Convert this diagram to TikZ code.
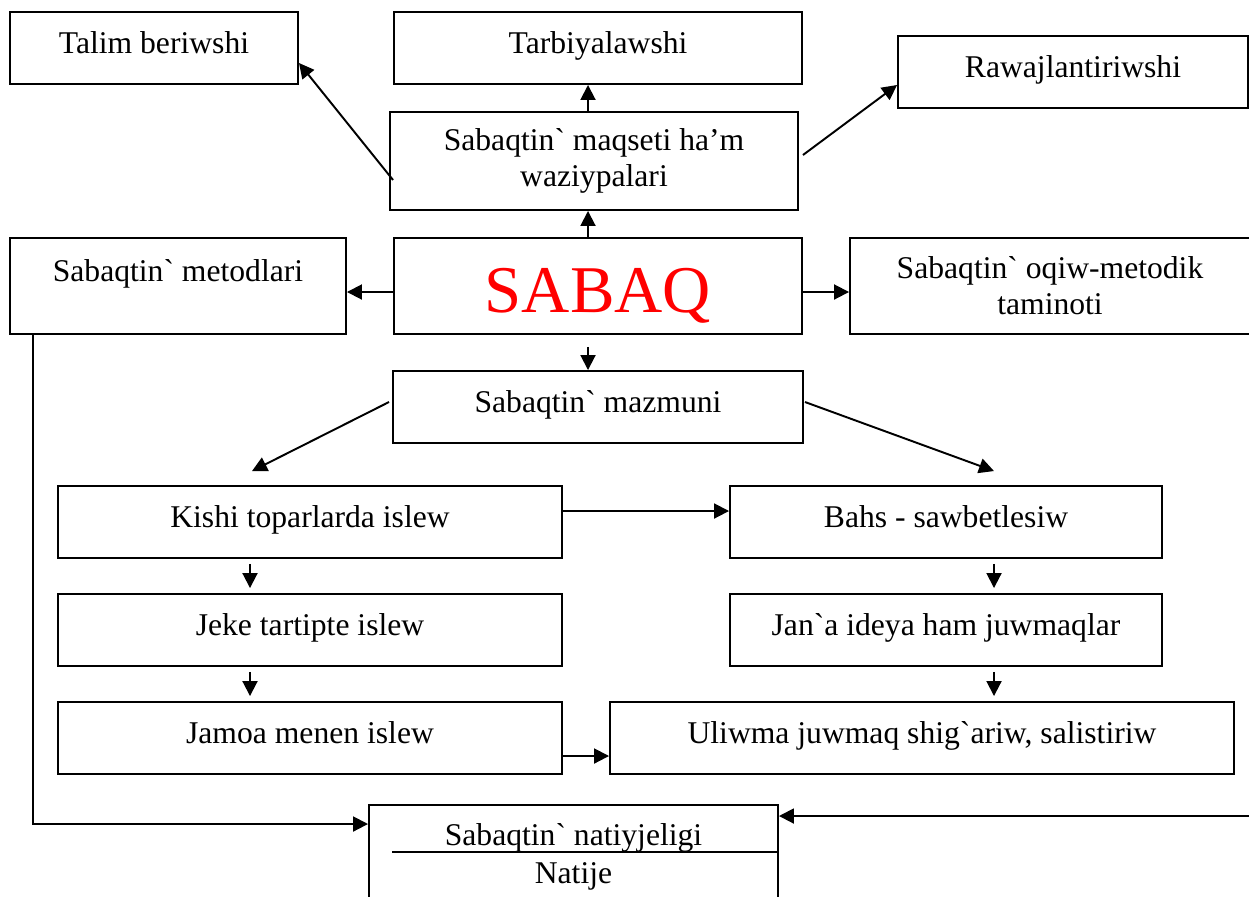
\documentclass[tikz,border=0pt]{standalone}
\usepackage{fontspec}
\setmainfont{Liberation Serif}[Ligatures=TeXOff]
\usetikzlibrary{arrows.meta, calc}

\begin{document}
\begin{tikzpicture}[font=\fontsize{18}{20.5}\selectfont]

\tikzstyle{block} = [rectangle, minimum height=1.44cm, text height=0.82cm, text depth=0.62cm, inner ysep=0pt, text centered, draw=black, line width=1.1pt]
\tikzstyle{twoline} = [rectangle, align=center, draw=black, line width=1.1pt]
\tikzstyle{arrow} = [line width=1.1pt, -{Triangle[length=0.3cm, width=0.3cm]}]

\useasboundingbox (0,0) rectangle (24.98,-17.92);
\clip (0,0) rectangle (24.98,-17.92);

\node (talim) [block, minimum width=5.76cm] at (3.08,-0.96) {Talim beriwshi};
\node (tarb) [block, minimum width=8.16cm] at (11.96,-0.96) {Tarbiyalawshi};
\node (rawaj) [block, minimum width=7.0cm] at (21.46,-1.44) {Rawajlantiriwshi};
\node (maqset) [twoline, minimum width=8.16cm, minimum height=1.96cm] at (11.88,-3.22) {Sabaqtin` maqseti ha’m\\ waziypalari};
\node (metod) [block, minimum width=6.72cm, minimum height=1.92cm, text height=0.86cm, text depth=1.06cm] at (3.56,-5.72) {Sabaqtin` metodlari};
\node (sabaq) [block, minimum width=8.16cm, minimum height=1.92cm, text height=1.48cm, text depth=0.44cm, text=red, font=\fontsize{38}{40}\selectfont] at (11.96,-5.72) {SABAQ};
\node (oqiw) [twoline, minimum width=8.0cm, minimum height=1.92cm] at (21.0,-5.72) {Sabaqtin` oqiw-metodik\\ taminoti};
\node (mazmun) [block, minimum width=8.2cm] at (11.96,-8.14) {Sabaqtin` mazmuni};
\node (kishi) [block, minimum width=10.08cm] at (6.2,-10.44) {Kishi toparlarda islew};
\node (bahs) [block, minimum width=8.64cm] at (18.92,-10.44) {Bahs - sawbetlesiw};
\node (jeke) [block, minimum width=10.08cm] at (6.2,-12.6) {Jeke tartipte islew};
\node (jana) [block, minimum width=8.64cm] at (18.92,-12.6) {Jan`a ideya ham juwmaqlar};
\node (jamoa) [block, minimum width=10.08cm] at (6.2,-14.76) {Jamoa menen islew};
\node (uliwma) [block, minimum width=12.48cm] at (18.44,-14.76) {Uliwma juwmaq shig`ariw, salistiriw};
\node (natij) [rectangle, draw=black, line width=1.1pt, minimum width=8.18cm, minimum height=2.1cm, anchor=north] at (11.47,-16.08) {};
\node (natt) [anchor=base] at (11.47,-16.9) {Sabaqtin` natiyjeligi};
\node (natn) [anchor=base] at (11.47,-17.66) {Natije};
\coordinate (rcorner) at (24.98,-16.32);

\draw [arrow] ([xshift=-0.12cm]maqset.north) -- ([xshift=-0.2cm]tarb.south);
\draw [arrow] ([xshift=0.08cm, yshift=-0.38cm]maqset.west) -- ([yshift=-0.3cm]talim.east);
\draw [arrow] ([xshift=0.08cm, yshift=0.12cm]maqset.east) -- ([yshift=-0.26cm]rawaj.west);
\draw [arrow] ([xshift=-0.2cm]sabaq.north) -- ([xshift=-0.12cm]maqset.south);
\draw [arrow] ([yshift=-0.12cm]sabaq.west) -- ([yshift=-0.12cm]metod.east);
\draw [arrow] ([yshift=-0.12cm]sabaq.east) -- ([yshift=-0.12cm]oqiw.west);
\draw [arrow, shorten <=0.24cm] ([xshift=-0.2cm]sabaq.south) -- ([xshift=-0.2cm]mazmun.north);
\draw [arrow] ([xshift=-0.06cm, yshift=0.1cm]mazmun.west) -- ([xshift=-1.16cm, yshift=0.28cm]kishi.north);
\draw [arrow] ([xshift=0.02cm, yshift=0.1cm]mazmun.east) -- ([xshift=0.96cm, yshift=0.28cm]bahs.north);
\draw [arrow] ([yshift=0.22cm]kishi.east) -- ([yshift=0.22cm]bahs.west);
\draw [arrow, shorten <=0.1cm, shorten >=0.1cm] ([xshift=-1.2cm]kishi.south) -- ([xshift=-1.2cm]jeke.north);
\draw [arrow, shorten <=0.1cm, shorten >=0.1cm] ([xshift=-1.2cm]jeke.south) -- ([xshift=-1.2cm]jamoa.north);
\draw [arrow, shorten <=0.1cm, shorten >=0.1cm] ([xshift=0.96cm]bahs.south) -- ([xshift=0.96cm]jana.north);
\draw [arrow, shorten <=0.1cm, shorten >=0.1cm] ([xshift=0.96cm]jana.south) -- ([xshift=1.44cm]uliwma.north);
\draw [arrow] ([yshift=-0.36cm]jamoa.east) -- ([yshift=-0.36cm]uliwma.west);
\draw [arrow] ([xshift=0.48cm]metod.south west) |- ([yshift=-0.4cm]natij.north west);
\draw [arrow] (rcorner) -- ([yshift=-0.24cm]natij.north east);
\draw [line width=1.1pt] ($(natij.north west)+(0.48,-0.96)$) -- ($(natij.north east)+(0,-0.96)$);
\end{tikzpicture}
\end{document}
